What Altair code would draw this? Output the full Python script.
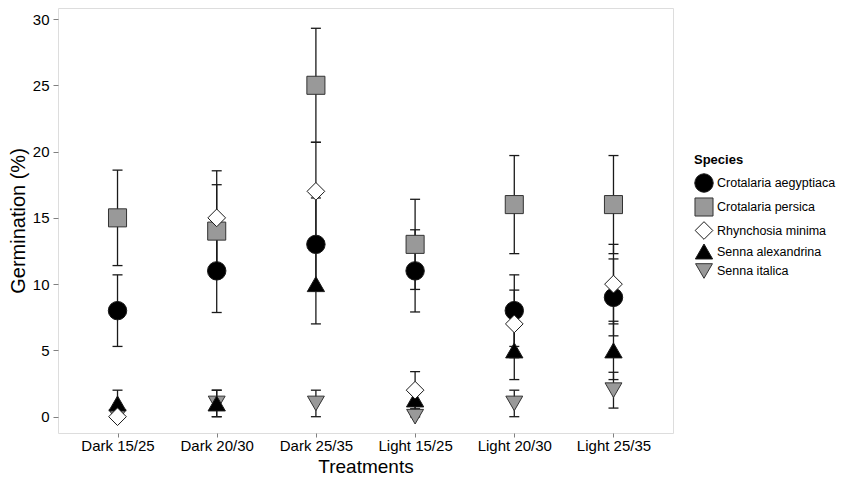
import altair as alt
import pandas as pd

treatments = ["Dark 15/25", "Dark 20/30", "Dark 25/35", "Light 15/25", "Light 20/30", "Light 25/35"]
species = ["Crotalaria aegyptiaca", "Crotalaria persica", "Rhynchosia minima",
           "Senna alexandrina", "Senna italica"]

means = {
    "Crotalaria aegyptiaca": [8, 11, 13, 11, 8, 9],
    "Crotalaria persica":    [15, 14, 25, 13, 16, 16],
    "Rhynchosia minima":     [0, 15, 17, 2, 7, 10],
    "Senna alexandrina":     [1, 1, 10, 1.3, 5, 5],
    "Senna italica":         [0, 1, 1, 0, 1, 2],
}
errors = {
    "Crotalaria aegyptiaca": [2.7, 3.14, 3.5, 3.1, 2.7, 2.9],
    "Crotalaria persica":    [3.6, 3.5, 4.3, 3.4, 3.7, 3.7],
    "Rhynchosia minima":     [0, 3.55, 3.7, 1.4, 2.55, 3.0],
    "Senna alexandrina":     [1, 1, 3, 0.9, 2.2, 2.2],
    "Senna italica":         [0, 1, 1, 0, 1, 1.35],
}

draw_order = ["Crotalaria aegyptiaca", "Crotalaria persica", "Senna italica",
              "Senna alexandrina", "Rhynchosia minima"]

rows = []
for sp in draw_order:
    for t, m, e in zip(treatments, means[sp], errors[sp]):
        rows.append({"Treatment": t, "Species": sp, "mean": m,
                     "lo": max(m - e, 0), "hi": m + e})
df = pd.DataFrame(rows)

shapes = ["circle", "square", "diamond", "triangle-up", "triangle-down"]
fills = ["#000000", "#999999", "#ffffff", "#000000", "#999999"]
strokes = ["#1a1a1a", "#333333", "#1a1a1a", "#1a1a1a", "#333333"]
sizes = [340, 285, 500, 576, 560]

FONT = "Liberation Sans"

x = alt.X("Treatment:N",
          scale=alt.Scale(type="point", domain=treatments, padding=0.6),
          axis=alt.Axis(title="Treatments", labelAngle=0, domain=False, grid=False,
                        tickColor="#808080", tickSize=4, labelPadding=1,
                        labelFontSize=15, labelColor="#000000", labelFont=FONT,
                        titleFontSize=19, titleFontWeight="normal", titleFont=FONT,
                        titleColor="#000000", titleBaseline="alphabetic",
                        titleY=39))
yscale = alt.Scale(domain=[-1.23, 30.83], nice=False, zero=False)
yaxis = alt.Axis(title="Germination (%)", values=[0, 5, 10, 15, 20, 25, 30],
                 domain=False, grid=False, tickColor="#808080", tickSize=5,
                 labelPadding=4, labelFontSize=15, labelColor="#000000", labelFont=FONT,
                 titleFontSize=20, titleFontWeight="normal", titleFont=FONT,
                 titleColor="#000000", titlePadding=4)

base = alt.Chart(df)

rules = base.mark_rule(color="#1a1a1a", strokeWidth=1.3).encode(
    x=x, y=alt.Y("lo:Q", scale=yscale, axis=yaxis), y2="hi:Q")
cap_lo = base.mark_tick(color="#1a1a1a", thickness=1.3, size=10, opacity=1).encode(
    x=x, y=alt.Y("lo:Q", scale=yscale))
cap_hi = base.mark_tick(color="#1a1a1a", thickness=1.3, size=10, opacity=1).encode(
    x=x, y=alt.Y("hi:Q", scale=yscale))

legend = alt.Legend(title="Species", orient="none", legendX=636, legendY=146,
                    titleFontSize=13, titleFontWeight="bold", titleFont=FONT,
                    titleColor="#000000", labelFontSize=12.5, labelFont=FONT,
                    labelColor="#000000", symbolStrokeWidth=1, symbolOpacity=1,
                    rowPadding=0, labelOffset=3, titlePadding=6)

points = base.mark_point(filled=True, strokeWidth=1, opacity=1).encode(
    x=x,
    y=alt.Y("mean:Q", scale=yscale),
    shape=alt.Shape("Species:N", scale=alt.Scale(domain=species, range=shapes), legend=legend),
    fill=alt.Fill("Species:N", scale=alt.Scale(domain=species, range=fills), legend=legend),
    stroke=alt.Stroke("Species:N", scale=alt.Scale(domain=species, range=strokes), legend=legend),
    size=alt.Size("Species:N", scale=alt.Scale(domain=species, range=sizes), legend=legend),
)

chart = alt.layer(rules, cap_lo, cap_hi, points).properties(
    width=615, height=425,
    autosize=alt.AutoSizeParams(type="none"),
    padding={"left": 50, "top": 0, "right": 165, "bottom": 42},
).configure_view(stroke="#7f7f7f", strokeWidth=1.2).configure(background="#ffffff")

chart.save("out.html", embed_options={"renderer": "svg", "actions": False})
